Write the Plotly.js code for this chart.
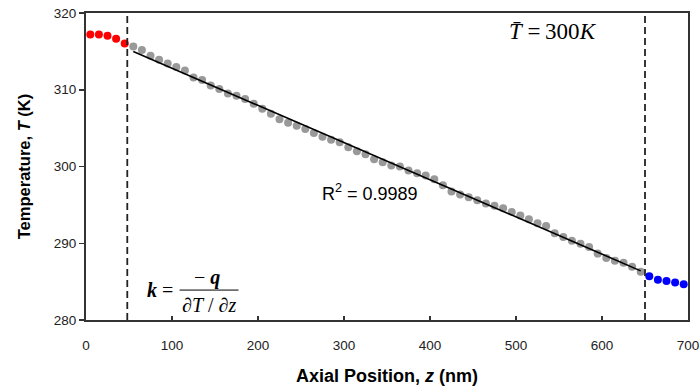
<!DOCTYPE html>
<html>
<head>
<meta charset="utf-8">
<script src="https://cdn.plot.ly/plotly-3.0.1.min.js"></script>
<style>html,body{margin:0;padding:0;background:#fff;}#chart{width:700px;height:387px;}</style>
</head>
<body>
<div id="chart"></div>
<script>
// Left (hot) reservoir points
var zRed = [5, 15, 25, 35, 45];
var tRed = [317.21, 317.21, 317.04, 316.65, 316.04];

// Middle (linear) region points
var zGray = [55, 65, 75, 85, 95, 105, 115, 125, 135, 145,
             155, 165, 175, 185, 195, 205, 215, 225, 235, 245,
             255, 265, 275, 285, 295, 305, 315, 325, 335, 345,
             355, 365, 375, 385, 395, 405, 415, 425, 435, 445,
             455, 465, 475, 485, 495, 505, 515, 525, 535, 545,
             555, 565, 575, 585, 595, 605, 615, 625, 635, 645];
var tGray = [315.64, 315.17, 314.43, 313.91, 313.43, 312.96, 312.51, 311.60, 311.26, 310.56,
             310.09, 309.51, 309.21, 308.78, 308.17, 307.52, 306.87, 306.17, 305.69, 305.30,
             304.87, 304.35, 303.87, 303.47, 303.17, 302.52, 302.00, 301.61, 300.96, 300.56,
             300.13, 299.99, 299.47, 299.13, 298.82, 298.35, 297.56, 296.73, 296.34, 296.00,
             295.61, 295.17, 294.87, 294.57, 294.08, 293.60, 293.13, 292.61, 292.26, 291.31,
             290.82, 290.34, 289.95, 289.52, 288.65, 288.08, 287.73, 287.47, 286.95, 286.30];

// Right (cold) reservoir points
var zBlue = [655, 665, 675, 685, 695];
var tBlue = [285.70, 285.25, 285.09, 284.87, 284.65];

// Reservoir boundaries
var boundaries = [48, 650];

var xTicks = [0, 100, 200, 300, 400, 500, 600, 700];
var yTicks = [280, 290, 300, 310, 320];

// Least-squares fit of middle region
function fit(x, y) {
  var n = x.length, sx = 0, sy = 0, sxx = 0, sxy = 0;
  for (var i = 0; i < n; i++) { sx += x[i]; sy += y[i]; sxx += x[i]*x[i]; sxy += x[i]*y[i]; }
  var m = (n*sxy - sx*sy) / (n*sxx - sx*sx);
  var b = (sy - m*sx) / n;
  return {m: m, b: b};
}
var f = fit(zGray, tGray);
var zFit = [zGray[0], zGray[zGray.length-1]];
var tFit = zFit.map(function(z){ return f.m*z + f.b; });

var mk = function(c){ return {color: c, size: 8, line: {width: 0}}; };

var traces = [
  {x: zRed, y: tRed, mode: 'markers', type: 'scatter', marker: mk('#ff0000'), hoverinfo: 'x+y'},
  {x: zGray, y: tGray, mode: 'markers', type: 'scatter', marker: mk('#999999'), hoverinfo: 'x+y'},
  {x: zBlue, y: tBlue, mode: 'markers', type: 'scatter', marker: mk('#0000ff'), hoverinfo: 'x+y'},
  {x: zFit, y: tFit, mode: 'lines', type: 'scatter', line: {color: '#000', width: 1.6}, hoverinfo: 'skip'}
];

var shapes = boundaries.map(function(b){
  return {type: 'line', xref: 'x', yref: 'y', x0: b, x1: b, y0: 280, y1: 320,
          line: {color: '#222', width: 1.8, dash: '7px,4px'}};
});
shapes.push({type: 'line', xref: 'x', yref: 'y', x0: 108.8, x1: 177.4, y0: 283.9, y1: 283.9,
             line: {color: '#000', width: 1}});

var serif = 'Times New Roman, Liberation Serif, serif';
var annotations = [
  {x: 543, y: 317.6, xref: 'x', yref: 'y', showarrow: false, xanchor: 'center', yanchor: 'middle',
   text: '<i>T\u0304</i> =\u2009300<i>K</i>', font: {family: serif, size: 23, color: '#000'}},
  {x: 330.6, y: 296.6, xref: 'x', yref: 'y', showarrow: false, xanchor: 'center', yanchor: 'middle',
   text: 'R<sup>2</sup> = 0.9989', font: {family: 'Arial, Liberation Sans, sans-serif', size: 18, color: '#000'}},
  {x: 104, y: 283.9, xref: 'x', yref: 'y', showarrow: false, xanchor: 'right', yanchor: 'middle',
   text: '<b><i>k</i></b> =', font: {family: serif, size: 20, color: '#000'}},
  {x: 141, y: 285.6, xref: 'x', yref: 'y', showarrow: false, xanchor: 'center', yanchor: 'middle',
   text: '\u2212 <b><i>q</i></b>', font: {family: serif, size: 20, color: '#000'}},
  {x: 143.3, y: 281.9, xref: 'x', yref: 'y', showarrow: false, xanchor: 'center', yanchor: 'middle',
   text: '\u2202<i>T</i> / \u2202<i>z</i>', font: {family: serif, size: 20, color: '#000'}}
];

var axisCommon = {
  showline: true, linecolor: '#333', linewidth: 2, mirror: true,
  showgrid: false, zeroline: false, tickcolor: '#333', tickwidth: 1.5,
  tickfont: {family: 'Arial, Liberation Sans, sans-serif', size: 13.5, color: '#222'}
};

var layout = {
  width: 700, height: 387,
  margin: {l: 86, r: 12, t: 13, b: 67},
  paper_bgcolor: '#fff', plot_bgcolor: '#fff',
  showlegend: false,
  font: {family: 'Arial, Liberation Sans, sans-serif', color: '#000'},
  xaxis: Object.assign({}, axisCommon, {
    range: [0, 700], tickmode: 'array', tickvals: xTicks, ticktext: xTicks.map(String),
    ticks: 'inside', ticklen: 4, ticklabelstandoff: 12,
    title: {text: '<b>Axial Position, <i>z</i> (nm)</b>', font: {size: 18, color: '#000'}, standoff: 17}
  }),
  yaxis: Object.assign({}, axisCommon, {
    range: [280, 320], tickmode: 'array', tickvals: yTicks, ticktext: yTicks.map(String),
    ticks: 'outside', ticklen: 5,
    title: {text: '<b>Temperature, <i>T</i> (K)</b>', font: {size: 16.5, color: '#000'}, standoff: 19}
  }),
  shapes: shapes,
  annotations: annotations
};

Plotly.newPlot('chart', traces, layout, {displayModeBar: false, staticPlot: true});
</script>
</body>
</html>
